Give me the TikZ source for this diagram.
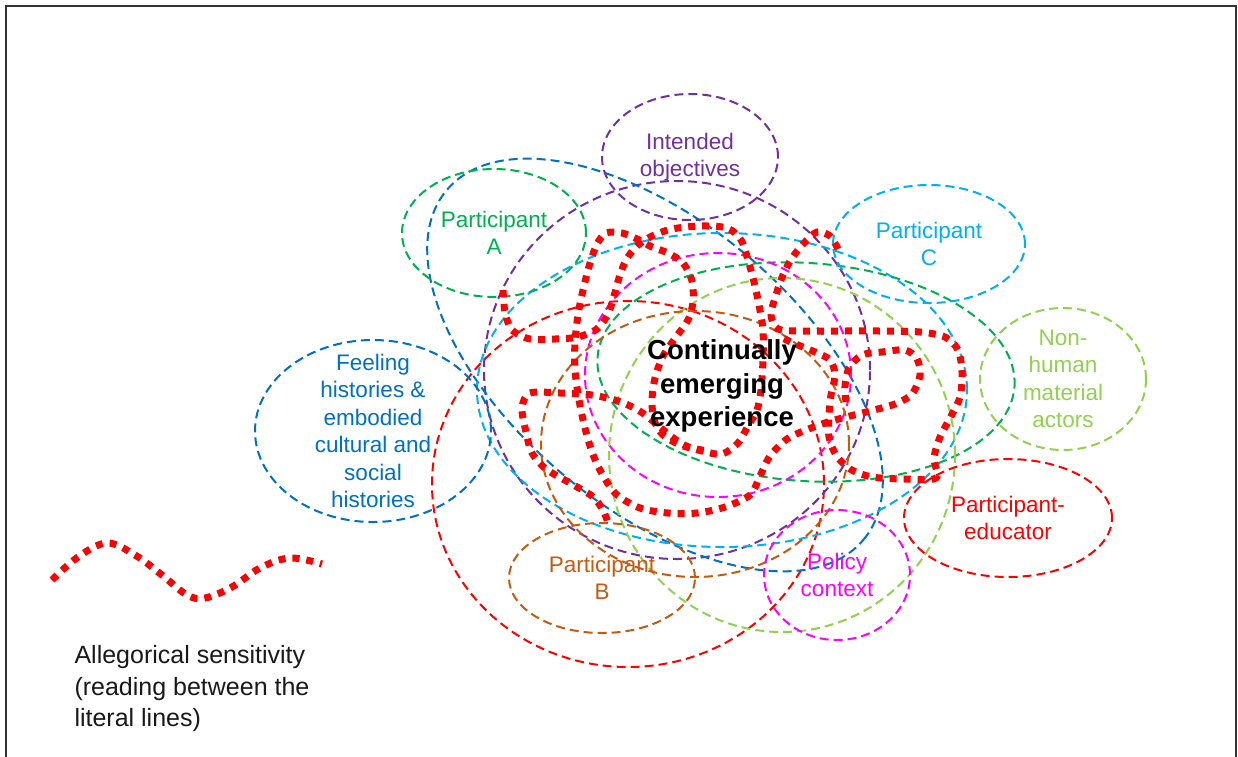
\documentclass[tikz,border=0pt]{standalone}
\usepackage{fontspec}
\setmainfont{Liberation Sans}
\usetikzlibrary{calc, positioning, shapes.geometric}
\definecolor{objPurple}{HTML}{7030A0}
\definecolor{partGreen}{HTML}{00B050}
\definecolor{partCyan}{HTML}{00B0F0}
\definecolor{histBlue}{HTML}{0070C0}
\definecolor{matGreen}{HTML}{92D050}
\definecolor{partBrown}{HTML}{C55A11}
\definecolor{polMagenta}{HTML}{FF00FF}
\definecolor{eduRed}{HTML}{FF0000}

\begin{document}
\begin{tikzpicture}[x=1pt, y=-1pt,
    zone/.style={line width=2pt, dash pattern=on 9pt off 5pt},
    actor/.style={zone, draw, ellipse, inner sep=0pt},
    tag/.style={align=center, font=\fontsize{22.5}{27.5}\selectfont},
    thread/.style={eduRed, line width=7pt, dash pattern=on 7pt off 7pt}]
    \useasboundingbox (0,0) rectangle (1238,756);
    \draw[line width=2pt, black!80] (6,770) -- (6,6) -- (1236,6) -- (1236,770);

    % large overlapping fields
    \draw[zone, eduRed] (628,484) ellipse [x radius=196pt, y radius=183pt];
    \draw[zone, objPurple] (677,370) ellipse [x radius=193pt, y radius=189pt];
    \draw[zone, histBlue, rotate around={-40:(655,365)}] (655,365) ellipse [x radius=272pt, y radius=143pt];
    \draw[zone, partCyan] (722,390) ellipse [x radius=245pt, y radius=157pt];
    \draw[zone, partGreen, rotate around={-4:(806,372)}] (806,372) ellipse [x radius=209pt, y radius=109pt];
    \draw[zone, polMagenta] (718,375) ellipse [x radius=133pt, y radius=122pt];
    \draw[zone, matGreen] (782,455) ellipse [x radius=173pt, y radius=177pt];
    \draw[zone, partBrown] (695,444) ellipse [x radius=154pt, y radius=133pt];

    \node[actor, objPurple, minimum width=176pt, minimum height=126pt] (objectives) at (690,157) {};
    \node[actor, partGreen, minimum width=184pt, minimum height=128pt] (partA) at (494,233) {};
    \node[actor, partCyan, minimum width=192pt, minimum height=118pt] (partC) at (929,244) {};
    \node[actor, matGreen, minimum width=166pt, minimum height=142pt] (nonhuman) at (1063,379) {};
    \node[actor, eduRed, minimum width=208pt, minimum height=118pt] (educator) at (1008,518) {};
    \node[actor, histBlue, minimum width=236pt, minimum height=182pt] (histories) at (373,431) {};
    \node[actor, partBrown, minimum width=186pt, minimum height=110pt] (partB) at (602,578) {};
    \node[actor, polMagenta, minimum width=146pt, minimum height=130pt] (policy) at (837,575) {};

    % allegorical threads
    \draw[thread] plot[smooth, tension=0.5] coordinates {(503,290) (505,312) (512,330) (530,339) (555,339) (578,337) (597,329) (608,314) (614,296) (619,278) (626,260) (637,246) (652,236) (672,229) (700,226) (727,228) (741,240) (748,260) (754,282) (759,305) (763,330) (763,360) (761,390) (757,410) (748,426) (738,443) (722,454) (702,451) (684,445) (668,434) (654,422) (638,410) (618,401) (592,395) (560,393) (530,393) (522,408) (526,432) (532,453) (546,469) (570,483) (592,496) (603,510) (608,523)};
    \draw[thread] plot[smooth, tension=0.5] coordinates {(838,249) (830,236) (817,232) (804,243) (792,258) (783,275) (776,295) (771,315) (778,329) (800,331) (840,331) (880,331) (920,332) (945,337) (958,350) (962,372) (960,397) (950,418) (940,437) (934,458) (936,478) (905,479) (872,477) (850,469) (836,455) (829,437) (829,415) (831,395) (835,375) (830,360) (815,352) (798,345) (782,338)};
    \draw[thread] plot[smooth, tension=0.5] coordinates {(846,402) (845,386) (849,368) (862,355) (882,352) (905,350) (917,359) (920,375) (912,394) (895,404) (870,411) (850,416) (828,422) (806,430) (787,439) (770,456) (760,476) (750,495) (725,507) (697,513) (668,513) (640,508) (616,494) (601,472) (592,452) (585,428) (579,400) (575,370) (575,342) (578,315) (583,290) (590,263) (597,244) (606,233) (622,233) (637,239) (652,247) (668,253) (683,263) (692,281) (693,302) (688,320) (676,337) (663,356) (655,378) (652,400) (654,420) (663,435) (683,446) (708,451)};
    \draw[thread] plot[smooth, tension=0.6] coordinates {(52,580) (78,557) (107,543) (135,555) (162,575) (187,595) (205,598) (232,587) (260,568) (290,558) (322,564)};

    \node[tag, objPurple] (objectivesText) at (objectives) {Intended\\objectives};
    \node[tag, partGreen] (partAText) at (partA) {Participant\\A};
    \node[tag, partCyan] (partCText) at (partC) {Participant\\C};
    \node[tag, matGreen] (nonhumanText) at (nonhuman) {Non-\\human\\material\\actors};
    \node[tag, eduRed] (educatorText) at (educator) {Participant-\\educator};
    \node[tag, histBlue] (historiesText) at (histories) {Feeling\\histories \&\\embodied\\cultural and\\social\\histories};
    \node[tag, partBrown] (partBText) at (partB) {Participant\\B};
    \node[tag, polMagenta] (policyText) at (policy) {Policy\\context};
    \node[align=center, font=\fontsize{27.5}{33.5}\selectfont\bfseries] (experience) at (722,386) {Continually\\emerging\\experience};
    \node[anchor=west, align=left, text=black!90, font=\fontsize{25}{31.5}\selectfont] (legend) at (71,689) {Allegorical sensitivity\\(reading between the\\literal lines)};
\end{tikzpicture}
\end{document}
